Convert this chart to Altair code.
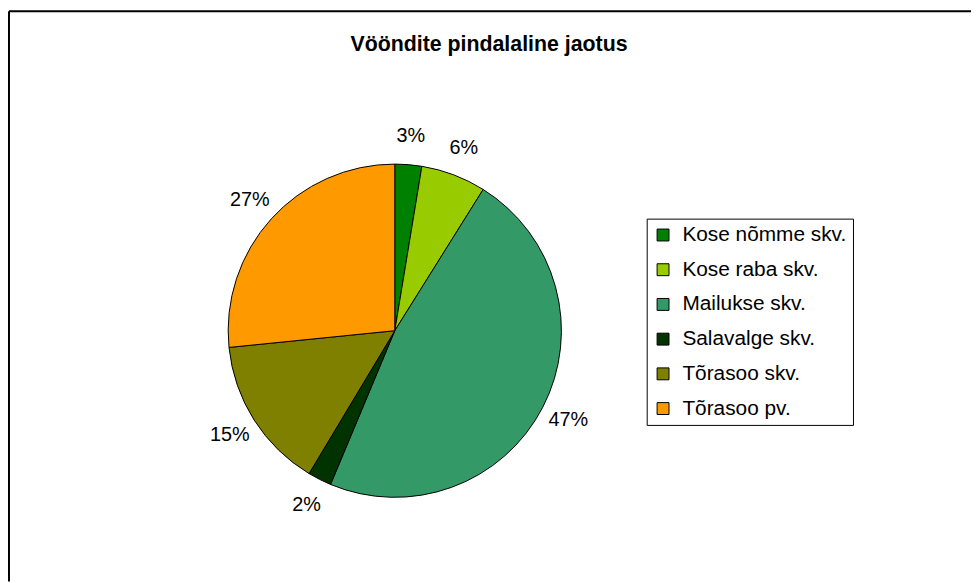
import altair as alt
import pandas as pd

categories = ["Kose nõmme skv.", "Kose raba skv.", "Mailukse skv.", "Salavalge skv.", "Tõrasoo skv.", "Tõrasoo pv."]
values = [2.6, 6.3, 47.4, 2.3, 14.8, 26.6]
colors = ["#008000", "#99CC00", "#339966", "#003300", "#808000", "#FF9900"]
title_text = "Vööndite pindalaline jaotus"

df = pd.DataFrame({
    "cat": categories,
    "val": values,
    "frac": [v / 100 for v in values],
    "idx": list(range(len(categories))),
})

FONT = "Liberation Sans"
CX, CY = 389, 322
W, H = 971, 575

base = alt.Chart(df).encode(
    theta=alt.Theta("val:Q", stack=True),
    order=alt.Order("idx:Q"),
)

pie = base.mark_arc(radius=168, stroke="black", strokeWidth=1).encode(
    x=alt.value(CX),
    y=alt.value(CY),
    color=alt.Color(
        "cat:N",
        scale=alt.Scale(domain=categories, range=colors),
        sort=categories,
        legend=alt.Legend(
            title=None,
            orient="none",
            legendX=643,
            legendY=209,
            symbolType="square",
            symbolSize=144,
            symbolStrokeColor="black",
            symbolStrokeWidth=1,
            labelFont=FONT,
            labelFontSize=21,
            labelColor="black",
            labelLimit=300,
            rowPadding=13,
            strokeColor="black",
            fillColor="white",
            padding=6,
            labelOffset=9,
        ),
    ),
)

labels = base.mark_text(radius=197, font=FONT, fontSize=20, color="black").encode(
    x=alt.value(CX),
    y=alt.value(CY),
    text=alt.Text("frac:Q", format=".0%"),
)

title = alt.Chart(pd.DataFrame({"t": [title_text]})).mark_text(
    font=FONT, fontSize=21.5, fontWeight="bold", color="black"
).encode(
    x=alt.value(484),
    y=alt.value(34),
    text="t:N",
)

left_edge = alt.Chart(pd.DataFrame({"a": [0]})).mark_rule(color="black", strokeWidth=2).encode(
    x=alt.value(0), y=alt.value(0), y2=alt.value(H)
)
top_edge = alt.Chart(pd.DataFrame({"a": [0]})).mark_rule(color="black", strokeWidth=2).encode(
    x=alt.value(0), x2=alt.value(W), y=alt.value(0)
)

chart = alt.layer(pie, labels, title, left_edge, top_edge).properties(
    width=W,
    height=H,
    padding=0,
    autosize=alt.AutoSizeParams(type="fit", contains="padding"),
).configure(background="white").configure_view(stroke=None)

chart.save("out.html", embed_options={"renderer": "svg", "actions": False})
